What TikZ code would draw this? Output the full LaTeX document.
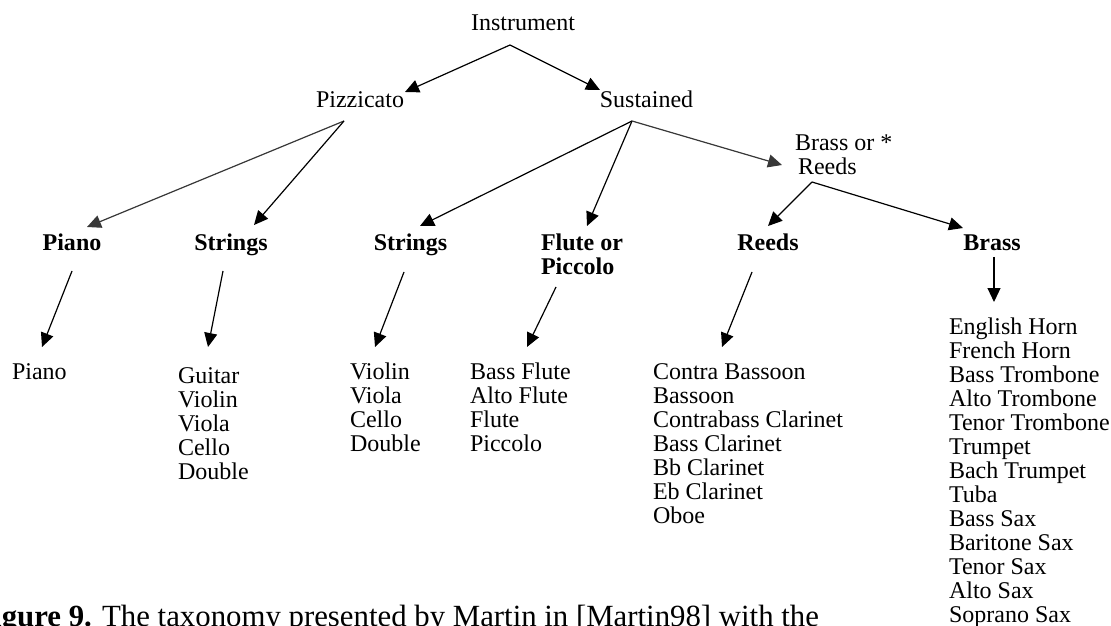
\documentclass[tikz,border=0pt]{standalone}
\usepackage{fontspec}
\setmainfont{Liberation Serif}
\usetikzlibrary{arrows.meta}
\newcommand\stk[1]{\vtop{\baselineskip=12pt\lineskiplimit=-20pt #1}}
\begin{document}
\begin{tikzpicture}[x=0.5pt,y=-0.5pt,
  lbl/.style={inner sep=0pt,outer sep=0pt,font=\fontsize{12}{12}\selectfont},
  cat/.style={lbl,font=\fontsize{12}{12}\selectfont\bfseries},
  arr/.style={line width=0.6pt,-{Triangle[length=7pt,width=6.5pt]}},
  garr/.style={arr,draw=black!78,fill=black!78}]
\useasboundingbox (0,0) rectangle (1111,625);
\clip (0,0) rectangle (1111,625);
% level 0/1
\node[lbl,anchor=base] (inst) at (523,31) {Instrument};
\node[lbl,anchor=base] (pizz) at (360,108) {Pizzicato};
\node[lbl,anchor=base] (sust) at (646.5,108) {Sustained};
\node[lbl,anchor=base west] (bor) at (795,151) {\stk{\hbox{Brass or *}\hbox{\hspace*{1.5pt}Reeds}}};
% level 2
\node[cat,anchor=base] (cpiano) at (72,251) {Piano};
\node[cat,anchor=base] (cstr1) at (231,251) {Strings};
\node[cat,anchor=base] (cstr2) at (410.5,251) {Strings};
\node[cat,anchor=base west] (cflute) at (541,251) {\stk{\hbox{Flute or}\hbox{Piccolo}}};
\node[cat,anchor=base] (creeds) at (768,251) {Reeds};
\node[cat,anchor=base] (cbrass) at (992,251) {Brass};
% leaves
\node[lbl,anchor=base west] (lpiano) at (12,379) {Piano};
\node[lbl,anchor=base west] (lstr1) at (178,383) {\stk{\hbox{Guitar}\hbox{Violin}\hbox{Viola}\hbox{Cello}\hbox{Double}}};
\node[lbl,anchor=base west] (lstr2) at (350,379) {\stk{\hbox{Violin}\hbox{Viola}\hbox{Cello}\hbox{Double}}};
\node[lbl,anchor=base west] (lflute) at (470,379) {\stk{\hbox{Bass Flute}\hbox{Alto Flute}\hbox{Flute}\hbox{Piccolo}}};
\node[lbl,anchor=base west] (lreeds) at (653,379) {\stk{\hbox{Contra Bassoon}\hbox{Bassoon}\hbox{Contrabass Clarinet}\hbox{Bass Clarinet}\hbox{Bb Clarinet}\hbox{Eb Clarinet}\hbox{Oboe}}};
\node[lbl,anchor=base west] (lbrass) at (949,334) {\stk{\hbox{English Horn}\hbox{French Horn}\hbox{Bass Trombone}\hbox{Alto Trombone}\hbox{Tenor Trombone}\hbox{Trumpet}\hbox{Bach Trumpet}\hbox{Tuba}\hbox{Bass Sax}\hbox{Baritone Sax}\hbox{Tenor Sax}\hbox{Alto Sax}\hbox{Soprano Sax}}};
% caption
\node[inner sep=0pt,anchor=base west,font=\fontsize{15.4}{16}\selectfont] (cap) at (-26,626) {\textbf{Figure 9.} The taxonomy presented by Martin in [Martin98] with the};
% connector endpoints
\coordinate (o-inst) at (510,45);
\coordinate (t-pizz) at (405,92);
\coordinate (t-sust) at (600,90);
\coordinate (o-pizz) at (344,121);
\coordinate (t-cpiano) at (87,227);
\coordinate (t-cstr1) at (254,225);
\coordinate (o-sust) at (632,121);
\coordinate (t-cstr2) at (420,226);
\coordinate (t-cflute) at (587,226);
\coordinate (t-bor) at (782,165);
\coordinate (o-bor) at (812,182);
\coordinate (t-creeds) at (768,226);
\coordinate (t-cbrass) at (963,228);
\coordinate (o-cpiano) at (72,271);   \coordinate (t-lpiano) at (42,347);
\coordinate (o-cstr1) at (223,271);   \coordinate (t-lstr1) at (208,347);
\coordinate (o-cstr2) at (404,272);   \coordinate (t-lstr2) at (375,347);
\coordinate (o-cflute) at (556,287);  \coordinate (t-lflute) at (527,347);
\coordinate (o-creeds) at (752,272);  \coordinate (t-lreeds) at (722,347);
\coordinate (o-cbrass) at (994,257);  \coordinate (t-lbrass) at (994,302);
% connectors
\draw[arr] (o-inst) -- (t-pizz);
\draw[arr] (o-inst) -- (t-sust);
\draw[garr] (o-pizz) -- (t-cpiano);
\draw[arr] (o-pizz) -- (t-cstr1);
\draw[arr] (o-sust) -- (t-cstr2);
\draw[arr] (o-sust) -- (t-cflute);
\draw[garr] (o-sust) -- (t-bor);
\draw[arr] (o-bor) -- (t-creeds);
\draw[arr] (o-bor) -- (t-cbrass);
\draw[arr] (o-cpiano) -- (t-lpiano);
\draw[arr] (o-cstr1) -- (t-lstr1);
\draw[arr] (o-cstr2) -- (t-lstr2);
\draw[arr] (o-cflute) -- (t-lflute);
\draw[arr] (o-creeds) -- (t-lreeds);
\draw[arr] (o-cbrass) -- (t-lbrass);
\end{tikzpicture}
\end{document}
